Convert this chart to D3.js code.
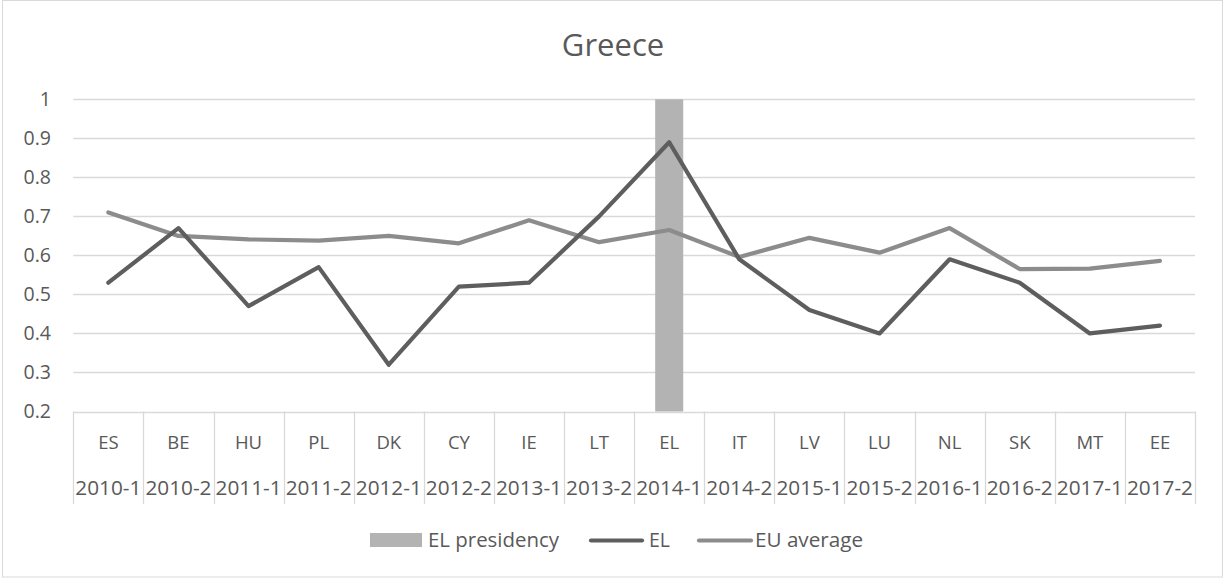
<!DOCTYPE html>
<html>
<head>
<meta charset="utf-8">
<script src="https://cdn.jsdelivr.net/npm/d3@7"></script>
<style>
  body { margin: 0; background: #fff; }
  svg { display: block; font-family: "Open Sans", "Noto Sans", sans-serif; }
</style>
</head>
<body>
<div id="chart"></div>
<script>
// presidencies (country + semester)
const countries = ['ES', 'BE', 'HU', 'PL', 'DK', 'CY', 'IE', 'LT', 'EL', 'IT', 'LV', 'LU', 'NL', 'SK', 'MT', 'EE'];
const periods = ['2010-1', '2010-2', '2011-1', '2011-2', '2012-1', '2012-2', '2013-1', '2013-2',
  '2014-1', '2014-2', '2015-1', '2015-2', '2016-1', '2016-2', '2017-1', '2017-2'];
const elValues = [0.53, 0.67, 0.47, 0.57, 0.32, 0.52, 0.53, 0.70, 0.89, 0.59, 0.46, 0.40, 0.59, 0.53, 0.40, 0.42];
const euAverage = [0.71, 0.65, 0.641, 0.638, 0.65, 0.631, 0.69, 0.634, 0.665, 0.596, 0.645, 0.607, 0.67, 0.565, 0.566, 0.586];
const presidency = [0, 0, 0, 0, 0, 0, 0, 0, 1, 0, 0, 0, 0, 0, 0, 0];
const yTicks = [0.2, 0.3, 0.4, 0.5, 0.6, 0.7, 0.8, 0.9, 1];

const W = 1225, H = 578;
const plot = { left: 73.3, right: 1195, top: 99.3, bottom: 411.5 };
const textColor = '#595959';
const fs = 19.5;

const svg = d3.select('#chart').append('svg').attr('width', W).attr('height', H);

// chart area border
svg.append('rect')
  .attr('x', 2.5).attr('y', 0.5).attr('width', W - 5).attr('height', H - 1.5)
  .attr('fill', '#fff').attr('stroke', '#d9d9d9');

const x = d3.scaleBand().domain(periods).range([plot.left, plot.right]).padding(0);
const y = d3.scaleLinear().domain([0.2, 1]).range([plot.bottom, plot.top]);

// gridlines
svg.append('g').selectAll('line').data(yTicks).join('line')
  .attr('x1', plot.left).attr('x2', plot.right)
  .attr('y1', d => Math.round(y(d)) + 0.5).attr('y2', d => Math.round(y(d)) + 0.5)
  .attr('stroke', '#d9d9d9').attr('stroke-width', 1.3);

// y labels
svg.append('g').selectAll('text').data(yTicks).join('text')
  .attr('x', 51).attr('y', d => y(d)).attr('dy', '0.35em')
  .attr('text-anchor', 'end').attr('font-size', fs).attr('fill', textColor)
  .text(d => d);

// EL presidency bar (gap width 150%)
const barW = x.bandwidth() / 2.5;
svg.append('g').selectAll('rect').data(periods.filter((p, i) => presidency[i] > 0)).join('rect')
  .attr('x', d => x(d) + (x.bandwidth() - barW) / 2)
  .attr('width', barW)
  .attr('y', d => y(presidency[periods.indexOf(d)]))
  .attr('height', d => y(0.2) - y(presidency[periods.indexOf(d)]))
  .attr('fill', '#b3b3b3');

// lines
const line = vals => d3.line()
  .x((d, i) => x(periods[i]) + x.bandwidth() / 2)
  .y(d => y(d))(vals);

svg.append('path').attr('d', line(euAverage))
  .attr('fill', 'none').attr('stroke', '#8c8c8c').attr('stroke-width', 4.2)
  .attr('stroke-linejoin', 'round').attr('stroke-linecap', 'round');
svg.append('path').attr('d', line(elValues))
  .attr('fill', 'none').attr('stroke', '#5e5e5e').attr('stroke-width', 4.2)
  .attr('stroke-linejoin', 'round').attr('stroke-linecap', 'round');

// category axis: separators
const sepX = periods.map(p => x(p)).concat([plot.right]);
svg.append('g').selectAll('line').data(sepX).join('line')
  .attr('x1', d => Math.round(d) + 0.5).attr('x2', d => Math.round(d) + 0.5)
  .attr('y1', plot.bottom).attr('y2', 504)
  .attr('stroke', '#d9d9d9').attr('stroke-width', 1.3);

const cx = p => x(p) + x.bandwidth() / 2;
svg.append('g').selectAll('text').data(countries).join('text')
  .attr('x', (d, i) => cx(periods[i])).attr('y', 443).attr('dy', '0.35em')
  .attr('text-anchor', 'middle').attr('font-size', 18.5).attr('fill', textColor)
  .text(d => d);
svg.append('g').selectAll('text').data(periods).join('text')
  .attr('x', d => cx(d)).attr('y', 488).attr('dy', '0.35em')
  .attr('text-anchor', 'middle').attr('font-size', fs).attr('fill', textColor)
  .attr('textLength', d => Math.min(66, x.bandwidth() - 3)).attr('lengthAdjust', 'spacingAndGlyphs')
  .text(d => d);

// title
svg.append('text')
  .attr('x', 613).attr('y', 56)
  .attr('text-anchor', 'middle').attr('font-size', 31).attr('fill', textColor)
  .text('Greece');

// legend
const legend = svg.append('g').attr('font-size', fs).attr('fill', textColor);
legend.append('rect').attr('x', 370).attr('y', 533).attr('width', 52).attr('height', 14).attr('fill', '#b3b3b3');
legend.append('text').attr('x', 428).attr('y', 540).attr('dy', '0.35em')
  .attr('textLength', 131).attr('lengthAdjust', 'spacingAndGlyphs').text('EL presidency');
legend.append('line').attr('x1', 591).attr('x2', 642).attr('y1', 540.5).attr('y2', 540.5)
  .attr('stroke', '#5e5e5e').attr('stroke-width', 4.2).attr('stroke-linecap', 'round');
legend.append('text').attr('x', 649).attr('y', 540).attr('dy', '0.35em').text('EL');
legend.append('line').attr('x1', 699).attr('x2', 751).attr('y1', 540.5).attr('y2', 540.5)
  .attr('stroke', '#8c8c8c').attr('stroke-width', 4.2).attr('stroke-linecap', 'round');
legend.append('text').attr('x', 755).attr('y', 540).attr('dy', '0.35em')
  .attr('textLength', 108).attr('lengthAdjust', 'spacingAndGlyphs').text('EU average');
</script>
</body>
</html>
